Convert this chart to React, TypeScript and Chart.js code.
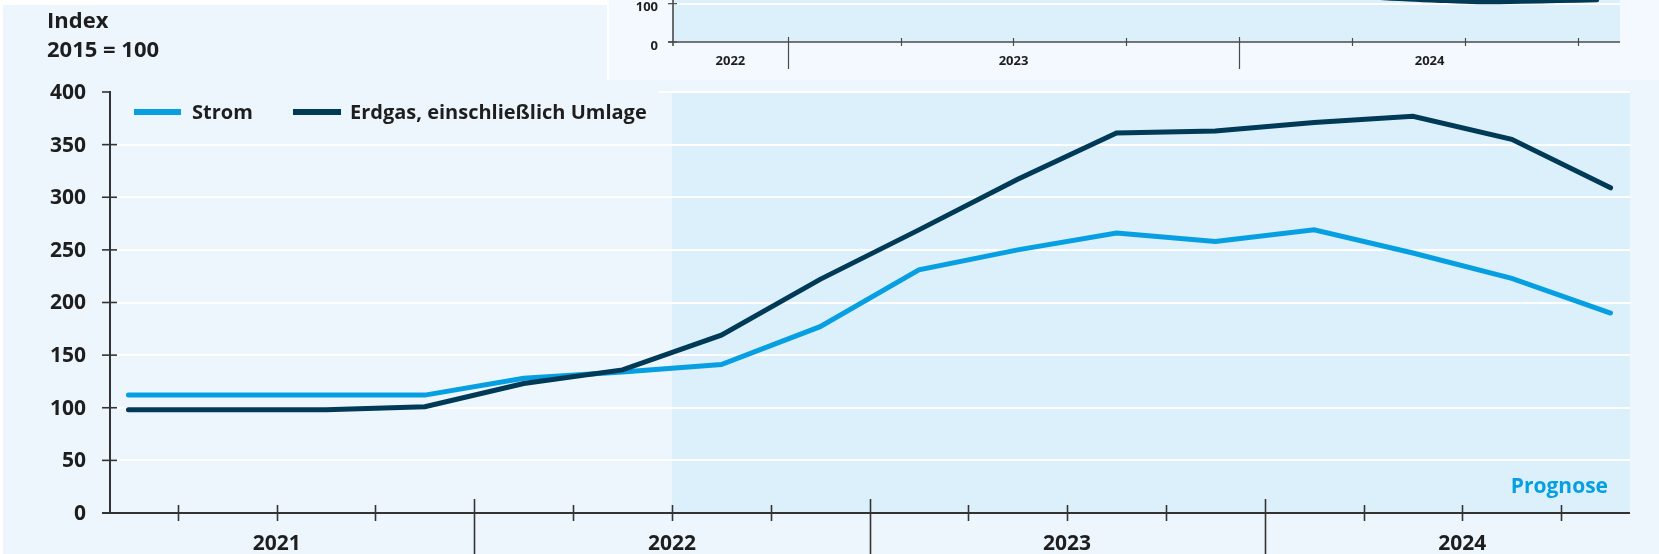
import React, { useEffect, useRef } from 'react';
import { Chart, registerables } from 'chart.js';

Chart.register(...registerables);

// ---------- data ----------
const QUARTERS = [
  '2021 Q1', '2021 Q2', '2021 Q3', '2021 Q4',
  '2022 Q1', '2022 Q2', '2022 Q3', '2022 Q4',
  '2023 Q1', '2023 Q2', '2023 Q3', '2023 Q4',
  '2024 Q1', '2024 Q2', '2024 Q3', '2024 Q4',
];
const YEARS = ['2021', '2022', '2023', '2024'];
const STROM = [112, 112, 112, 112, 128, 134, 141, 177, 231, 250, 266, 258, 269, 247, 223, 190];
const ERDGAS = [98, 98, 98, 101, 123, 136, 169, 222, 269, 317, 361, 363, 371, 377, 355, 309];
const Y_TICKS = [0, 50, 100, 150, 200, 250, 300, 350, 400];
const SERIES_NAMES = ['Strom', 'Erdgas, einschließlich Umlage'];
const TITLE_LINES = ['Index', '2015 = 100'];
const FORECAST_LABEL = 'Prognose';
const FORECAST_START_QUARTER = 6; // mid-2022

// inset (partially visible chart at top right), monthly from Oct 2022
const INSET_YEARS = ['2022', '2023', '2024'];
const INSET_Y_TICKS = [0, 100];
const INSET_MONTH_INDEX = [17, 18, 19, 20, 21, 22, 23, 24];
const INSET_VALUES = [130, 118, 112, 108, 105, 106, 108, 110];

// ---------- style ----------
const FONT = '"Open Sans", "Noto Sans", sans-serif';
const BG = '#eef6fd';
const SHADE = '#dcf0fb';
const TEXT = '#1e1e1e';
const AXIS = '#333333';
const STROM_COLOR = '#069fe2';
const ERDGAS_COLOR = '#003a57';

export default function App() {
  const mainRef = useRef<HTMLCanvasElement>(null);
  const insetRef = useRef<HTMLCanvasElement>(null);

  useEffect(() => {
    const mainPlugin = {
      id: 'mainDecor',
      beforeDraw(chart: any) {
        const { ctx, chartArea: ca, scales } = chart;
        const x = scales.x;
        const y = scales.y;
        ctx.save();
        ctx.fillStyle = BG;
        ctx.fillRect(0, 0, chart.width, chart.height);
        ctx.fillStyle = '#ffffff';
        ctx.fillRect(0, 0, 607, 5);
        ctx.fillRect(0, 0, 3, chart.height);
        // forecast shading
        ctx.fillStyle = SHADE;
        const sx = x.getPixelForValue(FORECAST_START_QUARTER);
        ctx.fillRect(sx, ca.top, ca.right - sx, ca.bottom - ca.top);
        // grid
        ctx.strokeStyle = '#ffffff';
        ctx.lineWidth = 2;
        Y_TICKS.forEach((v) => {
          if (v === 0) return;
          const yy = Math.round(y.getPixelForValue(v));
          ctx.beginPath();
          ctx.moveTo(v === 400 ? 658 : ca.left, yy);
          ctx.lineTo(ca.right, yy);
          ctx.stroke();
        });
        ctx.restore();
      },
      afterDraw(chart: any) {
        const { ctx, chartArea: ca, scales } = chart;
        const x = scales.x;
        const y = scales.y;
        ctx.save();
        ctx.strokeStyle = AXIS;
        // y axis
        ctx.lineWidth = 2;
        ctx.beginPath();
        ctx.moveTo(ca.left, ca.bottom);
        ctx.lineTo(ca.left, y.getPixelForValue(400) - 1);
        ctx.stroke();
        // x axis
        ctx.beginPath();
        ctx.moveTo(ca.left - 8, ca.bottom);
        ctx.lineTo(ca.right, ca.bottom);
        ctx.stroke();
        // y ticks
        ctx.lineWidth = 1.6;
        Y_TICKS.forEach((v) => {
          const yy = y.getPixelForValue(v);
          ctx.beginPath();
          ctx.moveTo(ca.left - 8, yy);
          ctx.lineTo(v === 400 ? ca.left : ca.left + 7, yy);
          ctx.stroke();
        });
        // x ticks
        for (let q = 1; q < QUARTERS.length; q++) {
          const xx = Math.round(x.getPixelForValue(q)) + 0.5;
          ctx.beginPath();
          if (q % 4 === 0) {
            ctx.moveTo(xx, ca.bottom - 14);
            ctx.lineTo(xx, chart.height);
          } else {
            ctx.moveTo(xx, ca.bottom - 8);
            ctx.lineTo(xx, ca.bottom + 8);
          }
          ctx.stroke();
        }
        // y labels
        ctx.fillStyle = TEXT;
        ctx.font = `bold 21px ${FONT}`;
        ctx.textAlign = 'right';
        ctx.textBaseline = 'middle';
        Y_TICKS.forEach((v) => {
          ctx.fillText(String(v), 86, y.getPixelForValue(v) + 1);
        });
        // year labels
        ctx.font = `bold 21px ${FONT}`;
        ctx.textAlign = 'center';
        ctx.textBaseline = 'alphabetic';
        YEARS.forEach((yr, i) => {
          ctx.fillText(yr, x.getPixelForValue(i * 4 + 2), 550);
        });
        // title
        ctx.textAlign = 'left';
        ctx.font = `bold 22px ${FONT}`;
        ctx.fillText(TITLE_LINES[0], 47, 28);
        ctx.fillText(TITLE_LINES[1], 47, 57);
        // legend
        ctx.lineWidth = 6;
        ctx.lineCap = 'butt';
        ctx.strokeStyle = STROM_COLOR;
        ctx.beginPath();
        ctx.moveTo(134, 112);
        ctx.lineTo(181, 112);
        ctx.stroke();
        ctx.strokeStyle = ERDGAS_COLOR;
        ctx.beginPath();
        ctx.moveTo(293, 112);
        ctx.lineTo(341, 112);
        ctx.stroke();
        ctx.font = `bold 20px ${FONT}`;
        ctx.textBaseline = 'middle';
        ctx.fillText(SERIES_NAMES[0], 192, 113);
        ctx.fillText(SERIES_NAMES[1], 350, 113);
        // forecast label
        ctx.fillStyle = STROM_COLOR;
        ctx.font = `bold 21px ${FONT}`;
        ctx.textAlign = 'right';
        ctx.textBaseline = 'alphabetic';
        ctx.fillText(FORECAST_LABEL, 1608, 493);
        ctx.restore();
      },
    };

    const main = new Chart(mainRef.current!, {
      type: 'line',
      data: {
        datasets: [
          {
            label: SERIES_NAMES[0],
            data: STROM.map((v, i) => ({ x: i + 0.5, y: v })),
            borderColor: STROM_COLOR,
            borderWidth: 5,
            pointRadius: 0,
            borderCapStyle: 'round',
            borderJoinStyle: 'miter',
            tension: 0,
            order: 2,
          },
          {
            label: SERIES_NAMES[1],
            data: ERDGAS.map((v, i) => ({ x: i + 0.5, y: v })),
            borderColor: ERDGAS_COLOR,
            borderWidth: 5,
            pointRadius: 0,
            borderCapStyle: 'round',
            borderJoinStyle: 'miter',
            tension: 0,
            order: 1,
          },
        ],
      },
      options: {
        animation: false,
        responsive: false,
        devicePixelRatio: 1,
        layout: { padding: { left: 110, right: 29, top: 92, bottom: 41 } },
        scales: {
          x: { type: 'linear', min: 0.313, max: 15.697, display: false },
          y: { type: 'linear', min: 0, max: 400, display: false },
        },
        plugins: { legend: { display: false }, tooltip: { enabled: false } },
        events: [],
      },
      plugins: [mainPlugin],
    } as any);

    const insetPlugin = {
      id: 'insetDecor',
      beforeDraw(chart: any) {
        const { ctx, chartArea: ca, scales } = chart;
        const y = scales.y;
        ctx.save();
        ctx.fillStyle = '#f3f9fe';
        ctx.fillRect(0, 0, chart.width, chart.height);
        ctx.fillStyle = '#ffffff';
        ctx.fillRect(0, 0, 2, chart.height);
        ctx.fillStyle = SHADE;
        ctx.fillRect(ca.left, 0, ca.right - ca.left, ca.bottom);
        ctx.strokeStyle = '#ffffff';
        ctx.lineWidth = 2;
        INSET_Y_TICKS.forEach((v) => {
          if (v === 0) return;
          const yy = Math.round(y.getPixelForValue(v));
          ctx.beginPath();
          ctx.moveTo(ca.left, yy);
          ctx.lineTo(ca.right, yy);
          ctx.stroke();
        });
        ctx.restore();
      },
      afterDraw(chart: any) {
        const { ctx, chartArea: ca, scales } = chart;
        const x = scales.x;
        const y = scales.y;
        ctx.save();
        ctx.strokeStyle = '#4a4a4a';
        ctx.lineWidth = 1.6;
        ctx.beginPath();
        ctx.moveTo(ca.left, 0);
        ctx.lineTo(ca.left, ca.bottom + 4);
        ctx.stroke();
        ctx.beginPath();
        ctx.moveTo(ca.left - 5, ca.bottom);
        ctx.lineTo(ca.right, ca.bottom);
        ctx.stroke();
        ctx.lineWidth = 1.2;
        INSET_Y_TICKS.forEach((v) => {
          const yy = y.getPixelForValue(v);
          ctx.beginPath();
          ctx.moveTo(ca.left - 5, yy);
          ctx.lineTo(ca.left + 4, yy);
          ctx.stroke();
        });
        for (let m = 3; m <= 24; m += 3) {
          const xx = Math.round(x.getPixelForValue(m)) + 0.5;
          ctx.beginPath();
          if ((m - 3) % 12 === 0) {
            ctx.moveTo(xx, ca.bottom - 5);
            ctx.lineTo(xx, ca.bottom + 27);
          } else {
            ctx.moveTo(xx, ca.bottom - 4);
            ctx.lineTo(xx, ca.bottom + 4);
          }
          ctx.stroke();
        }
        ctx.fillStyle = TEXT;
        ctx.font = `bold 13px ${FONT}`;
        ctx.textAlign = 'right';
        ctx.textBaseline = 'middle';
        INSET_Y_TICKS.forEach((v) => {
          ctx.fillText(String(v), 51, y.getPixelForValue(v) + 4);
        });
        ctx.textAlign = 'center';
        const centers = [
          (ca.left + x.getPixelForValue(3)) / 2,
          x.getPixelForValue(9),
          (x.getPixelForValue(15) + ca.right) / 2,
        ];
        INSET_YEARS.forEach((yr, i) => ctx.fillText(yr, centers[i], ca.bottom + 19));
        ctx.restore();
      },
    };

    const inset = new Chart(insetRef.current!, {
      type: 'line',
      data: {
        datasets: [
          {
            label: 'inset',
            data: INSET_VALUES.map((v, i) => ({ x: INSET_MONTH_INDEX[i] + 0.5, y: v })),
            borderColor: ERDGAS_COLOR,
            borderWidth: 5,
            pointRadius: 0,
            borderCapStyle: 'round',
            tension: 0.4,
          },
        ],
      },
      options: {
        animation: false,
        responsive: false,
        devicePixelRatio: 1,
        layout: { padding: { left: 66, right: 39, top: 7, bottom: 38 } },
        scales: {
          x: { type: 'linear', min: -0.05, max: 25.12, display: false },
          y: { type: 'linear', min: 0, max: 300, display: false },
        },
        plugins: { legend: { display: false }, tooltip: { enabled: false } },
        events: [],
      },
      plugins: [insetPlugin],
    } as any);

    let alive = true;
    if ((document as any).fonts && (document as any).fonts.ready) {
      (document as any).fonts.ready.then(() => {
        if (alive) {
          main.update();
          inset.update();
        }
      });
    }

    return () => {
      alive = false;
      main.destroy();
      inset.destroy();
    };
  }, []);

  return (
    <div style={{ position: 'absolute', left: 0, top: 0, width: 1659, height: 554, overflow: 'hidden' }}>
      <canvas ref={mainRef} width={1659} height={554} style={{ position: 'absolute', left: 0, top: 0 }} />
      <canvas ref={insetRef} width={1052} height={160} style={{ position: 'absolute', left: 607, top: -80 }} />
    </div>
  );
}
